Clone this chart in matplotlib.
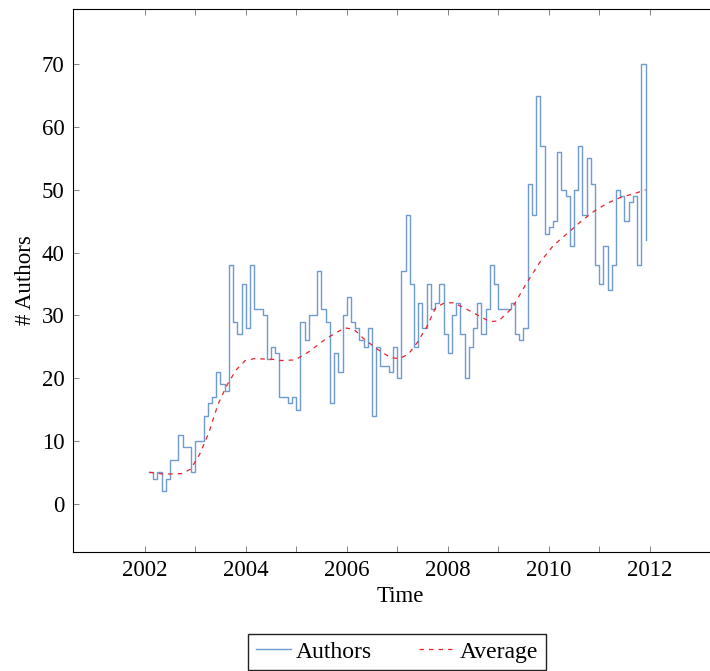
import numpy as np
import matplotlib
matplotlib.use('Agg')
import matplotlib.pyplot as plt

plt.rcParams['font.family'] = ['Liberation Serif', 'DejaVu Serif']

# Monthly author counts, Feb 2002 .. Dec 2011
start_year, start_month = 2002, 2
authors = [
    5, 4, 5, 2, 4, 7, 7, 11, 9, 9, 5,                  # 2002
    10, 10, 14, 16, 17, 21, 19, 18, 38, 29, 27, 35,    # 2003
    28, 38, 31, 31, 30, 23, 25, 24, 17, 17, 16, 17,    # 2004
    15, 29, 26, 30, 30, 37, 31, 29, 16, 24, 21, 30,    # 2005
    33, 29, 28, 26, 25, 28, 14, 25, 22, 22, 21, 25,    # 2006
    20, 37, 46, 35, 25, 32, 28, 35, 31, 32, 35, 27,    # 2007
    24, 30, 32, 27, 20, 25, 28, 32, 27, 31, 38, 35,    # 2008
    31, 31, 31, 32, 27, 26, 28, 51, 46, 65, 57, 43,    # 2009
    44, 45, 56, 50, 49, 41, 50, 57, 46, 55, 51, 38,    # 2010
    35, 41, 34, 38, 50, 49, 45, 48, 49, 38, 70, 42,    # 2011
]

# Smoothed average
avg_years = [2002.09, 2002.38, 2002.74, 2002.91, 2003.09, 2003.27, 2003.45,
             2003.63, 2003.81, 2003.99, 2004.17, 2004.53, 2004.71, 2004.98,
             2005.25, 2005.61, 2005.96, 2006.14, 2006.32, 2006.59, 2006.86,
             2007.04, 2007.22, 2007.40, 2007.58, 2007.76, 2007.94, 2008.12,
             2008.30, 2008.65, 2008.83, 2009.01, 2009.28, 2009.55, 2009.82,
             2010.09, 2010.36, 2010.63, 2010.90, 2011.17, 2011.43, 2011.70,
             2011.92]
avg_values = [5.0, 4.7, 4.8, 5.5, 7.9, 11.3, 15.8,
              18.9, 21.3, 22.8, 23.1, 23.0, 22.8, 22.9,
              24.2, 26.4, 28.0, 27.8, 26.4, 24.7, 23.3,
              23.1, 23.8, 25.7, 28.1, 31.2, 32.0, 32.0,
              31.3, 29.8, 29.0, 29.1, 31.2, 35.0, 38.4,
              41.1, 43.0, 44.9, 46.6, 47.9, 48.8, 49.4,
              50.0]

tick_years = list(range(2002, 2013))

months = np.arange(len(authors))
times = start_year + (start_month - 1 + months) / 12.0

fig = plt.figure(figsize=(7.1, 6.71), dpi=100)
# plot area runs a little past the right edge of the canvas
ax = fig.add_axes([73 / 710, 1 - 552 / 671, 655 / 710, (552 - 9) / 671])

ax.step(times, authors, where='post', color='#6f9bd1', lw=1.0, label='Authors')
ax.plot(avg_years, avg_values, color='#e8242c', lw=0.9, ls=(0, (3.6, 4)), label='Average')

ax.set_xlim(2000.58, 2000.58 + 655 / 50.5)
ax.set_ylim(-7.7, 78.8)
ax.set_xticks(tick_years)
ax.set_xticklabels([str(y) if y % 2 == 0 else '' for y in tick_years])
ax.set_yticks(np.arange(0, 80, 10))

ax.tick_params(direction='in', length=4, width=0.5, color='#555555',
               top=True, right=True, labelsize=16.5, pad=6)
for s in ax.spines.values():
    s.set_linewidth(0.8)

ax.set_xlabel('Time', fontsize=16.5, labelpad=3)
ax.set_ylabel('# Authors', fontsize=16.5, labelpad=4)

fig.legend(loc='upper center', bbox_to_anchor=(397 / 710, 1 - 634 / 671),
           ncol=2, fontsize=17, frameon=True, fancybox=False,
           edgecolor='#222222', framealpha=1, handlelength=1.5,
           handletextpad=0.22, columnspacing=2.0, borderpad=0.3,
           borderaxespad=0)

fig.savefig('out.png', dpi=100)
